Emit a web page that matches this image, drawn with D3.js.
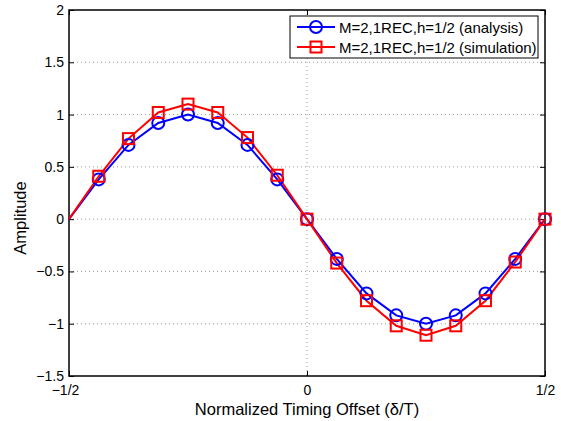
<!DOCTYPE html>
<html><head><meta charset="utf-8">
<script src="https://cdn.jsdelivr.net/npm/d3@7"></script>
<style>body{margin:0;background:#fff;}svg{display:block;font-family:"Liberation Sans",Arial,sans-serif;}</style>
</head><body>
<svg id="c" width="561" height="421"></svg>
<script>
const xValues = [-0.5,-0.4375,-0.375,-0.3125,-0.25,-0.1875,-0.125,-0.0625,0,0.0625,0.125,0.1875,0.25,0.3125,0.375,0.4375,0.5];
const analysis = [0,0.38,0.71,0.92,1.0,0.92,0.71,0.38,0,-0.38,-0.71,-0.92,-1.0,-0.92,-0.71,-0.38,0];
const simulation = [0,0.41,0.77,1.02,1.10,1.02,0.78,0.42,0,-0.42,-0.78,-1.02,-1.11,-1.02,-0.78,-0.41,0];
const xTicks = [-0.5,0,0.5];
const xTickLabels = ["\u22121/2","0","1/2"];
const yTicks = [-1.5,-1,-0.5,0,0.5,1,1.5,2];
const legendLabels = ["M=2,1REC,h=1/2 (analysis)","M=2,1REC,h=1/2 (simulation)"];

const L=69,R=545,T=10,B=376;
const svg=d3.select("#c");
const x=d3.scaleLinear().domain([-0.5,0.5]).range([L,R]);
const y=d3.scaleLinear().domain([-1.5,2]).range([B,T]);
const fmt=v=>(v<0?"\u2212":"")+Math.abs(v);

// grid
const g=svg.append("g");
yTicks.forEach(t=>{ if(t>-1.5&&t<2) g.append("line").attr("x1",L).attr("x2",R).attr("y1",y(t)).attr("y2",y(t))
  .attr("stroke","#999").attr("stroke-width",1).attr("stroke-dasharray","1,3");});
xTicks.forEach(t=>{ if(t>-0.5&&t<0.5) g.append("line").attr("y1",T).attr("y2",B).attr("x1",x(t)).attr("x2",x(t))
  .attr("stroke","#999").attr("stroke-width",1).attr("stroke-dasharray","1,3");});

// axes with inward ticks
const ax=svg.append("g").attr("transform",`translate(0,${B})`).call(d3.axisBottom(x).tickValues(xTicks).tickSize(-5).tickFormat((d,i)=>xTickLabels[i]).tickPadding(8));
const ay=svg.append("g").attr("transform",`translate(${L},0)`).call(d3.axisLeft(y).tickValues(yTicks).tickSize(-5).tickFormat(fmt).tickPadding(5));
svg.append("g").attr("transform",`translate(0,${T})`).call(d3.axisTop(x).tickValues(xTicks).tickSize(-5).tickFormat(""));
svg.append("g").attr("transform",`translate(${R},0)`).call(d3.axisRight(y).tickValues(yTicks).tickSize(-5).tickFormat(""));
svg.selectAll(".domain").remove();
svg.selectAll(".tick line").attr("stroke","#000");
svg.selectAll(".tick text").attr("font-size",14).attr("fill","#000").attr("font-family","Liberation Sans, Arial, sans-serif");
ax.selectAll(".tick text").attr("dy","0.75em");
ax.selectAll(".tick").filter((d,i)=>i===0).select("text").attr("dx","-4");
svg.append("rect").attr("x",L).attr("y",T).attr("width",R-L).attr("height",B-T).attr("fill","none").attr("stroke","#000").attr("stroke-width",1.5);

// series
const series=[{v:analysis,c:"#0000ff",m:"circle"},{v:simulation,c:"#ff0000",m:"square"}];
const line=d3.line().x((d,i)=>x(xValues[i])).y(d=>y(d));
series.forEach(s=>{
  svg.append("path").datum(s.v).attr("d",line).attr("fill","none").attr("stroke",s.c).attr("stroke-width",2);
});
series.forEach(s=>{
  const pts=s.v.map((d,i)=>({x:xValues[i],y:d})).slice(1);
  if(s.m==="circle"){
    svg.selectAll(null).data(pts).enter().append("circle").attr("cx",d=>x(d.x)).attr("cy",d=>y(d.y)).attr("r",6)
      .attr("fill","none").attr("stroke",s.c).attr("stroke-width",2);
  } else {
    svg.selectAll(null).data(pts).enter().append("rect").attr("x",d=>x(d.x)-5.5).attr("y",d=>y(d.y)-5.5).attr("width",11).attr("height",11)
      .attr("fill","none").attr("stroke",s.c).attr("stroke-width",2);
  }
});

// labels
svg.append("text").attr("x",307).attr("y",415).attr("text-anchor","middle").attr("font-size",16.5).text("Normalized Timing Offset (\u03b4/T)");
svg.append("text").attr("transform","translate(26,218) rotate(-90)").attr("text-anchor","middle").attr("font-size",16.5).text("Amplitude");

// legend
const lg=svg.append("g");
lg.append("rect").attr("x",290).attr("y",16).attr("width",248).attr("height",42).attr("fill","#fff").attr("stroke","#000").attr("stroke-width",1);
series.forEach((s,i)=>{
  const cy=27+i*20;
  lg.append("line").attr("x1",297).attr("x2",335).attr("y1",cy).attr("y2",cy).attr("stroke",s.c).attr("stroke-width",2);
  if(s.m==="circle") lg.append("circle").attr("cx",316).attr("cy",cy).attr("r",6).attr("fill","none").attr("stroke",s.c).attr("stroke-width",2);
  else lg.append("rect").attr("x",310.5).attr("y",cy-5.5).attr("width",11).attr("height",11).attr("fill","none").attr("stroke",s.c).attr("stroke-width",2);
  lg.append("text").attr("x",339).attr("y",cy+5.5).attr("font-size",15).text(legendLabels[i]);
});
</script>
</body></html>
